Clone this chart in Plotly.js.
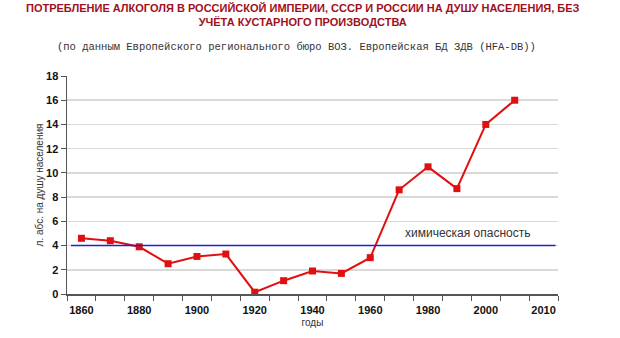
<!DOCTYPE html>
<html>
<head>
<meta charset="utf-8">
<script src="https://cdn.plot.ly/plotly-3.0.1.min.js"></script>
<style>html,body{margin:0;padding:0;background:#fff;}#chart{width:620px;height:338px;}</style>
</head>
<body>
<div id="chart"></div>
<script>
// Categories of the x axis (Excel-style category axis)
const categories = ['1860','1870','1880','1890','1900','1910','1920','1930','1940','1950','1960','1970','1980','1990','2000','2005','2010'];
// Years with data and consumption, litres of absolute alcohol per capita
const years = ['1860','1870','1880','1890','1900','1910','1920','1930','1940','1950','1960','1970','1980','1990','2000','2005'];
const consumption = [4.6, 4.4, 3.9, 2.5, 3.1, 3.3, 0.15, 1.1, 1.9, 1.7, 3.0, 8.6, 10.5, 8.7, 14.0, 16.0];
const tickLabels = ['1860','','1880','','1900','','1920','','1940','','1960','','1980','','2000','','2010'];
const dangerLevel = 4;
const dangerLabel = 'химическая опасность';

const trace = {
  x: years, y: consumption, type: 'scatter', mode: 'lines+markers',
  line: {color: '#e01010', width: 2},
  marker: {symbol: 'square', size: 7, color: '#e01010'},
  hoverinfo: 'x+y'
};

const layout = {
  width: 620, height: 338,
  margin: {l: 67, r: 62, t: 76, b: 44},
  paper_bgcolor: '#fff', plot_bgcolor: '#fff',
  showlegend: false,
  font: {family: 'Liberation Sans, Arial, sans-serif', color: '#222'},
  xaxis: {
    type: 'category', categoryorder: 'array', categoryarray: categories,
    range: [-0.5, categories.length - 0.5],
    tickmode: 'array', tickvals: categories, ticktext: tickLabels, tickangle: 0,
    tickson: 'boundaries', ticks: 'outside', ticklen: 5, tickcolor: '#555', tickwidth: 1,
    ticklabelstandoff: 5,
    showline: true, linecolor: '#555', linewidth: 1.5,
    showgrid: false, zeroline: false,
    tickfont: {family: 'Liberation Sans, Arial, sans-serif', size: 11, color: '#111', weight: 'bold'},
    title: {text: 'годы', font: {size: 10, color: '#333'}, standoff: 4}
  },
  yaxis: {
    range: [0, 18], dtick: 2, tick0: 0,
    ticks: 'outside', ticklen: 5, tickcolor: '#555',
    showline: true, linecolor: '#555', linewidth: 1.5,
    showgrid: true, gridcolor: '#d9d9d9', gridwidth: 1.5, zeroline: false,
    tickfont: {family: 'Liberation Sans, Arial, sans-serif', size: 11, color: '#111', weight: 'bold'},
    title: {text: 'л. абс. на душу населения', font: {size: 10, color: '#333'}, standoff: 0}
  },
  shapes: [{
    type: 'line', xref: 'paper', yref: 'y', x0: 0.008, x1: 0.995, y0: dangerLevel, y1: dangerLevel,
    line: {color: '#2020d0', width: 1.5}, layer: 'above'
  }],
  annotations: [
    {xref: 'paper', yref: 'paper', x: 0.48, y: 1, yshift: 76, xanchor: 'center', yanchor: 'top', showarrow: false,
     text: '<b>ПОТРЕБЛЕНИЕ АЛКОГОЛЯ В РОССИЙСКОЙ ИМПЕРИИ, СССР И РОССИИ НА ДУШУ НАСЕЛЕНИЯ, БЕЗ<br>УЧЁТА КУСТАРНОГО ПРОИЗВОДСТВА</b>',
     font: {family: 'Liberation Sans, Arial, sans-serif', size: 11, color: '#a0101c'}},
    {xref: 'paper', yref: 'paper', x: 0.468, y: 1, yshift: 29, xanchor: 'center', yanchor: 'middle', showarrow: false,
     text: '(по данным Европейского регионального бюро ВОЗ. Европейская БД ЗДВ (HFA-DB))',
     font: {family: 'Liberation Mono, DejaVu Sans Mono, monospace', size: 10.5, color: '#333'}},
    {xref: 'paper', yref: 'paper', x: 0.817, y: 0.28, xanchor: 'center', yanchor: 'middle', showarrow: false,
     text: dangerLabel, font: {family: 'Liberation Sans, Arial, sans-serif', size: 12, color: '#333'}}
  ]
};

Plotly.newPlot('chart', [trace], layout, {displayModeBar: false, staticPlot: true});
</script>
</body>
</html>
